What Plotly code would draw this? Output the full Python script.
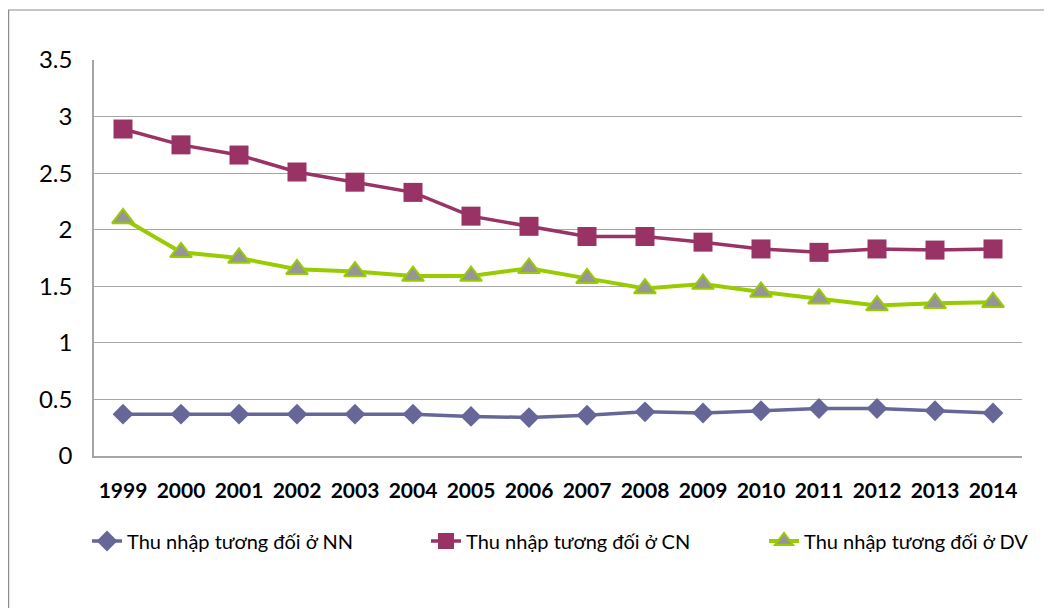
import plotly.graph_objects as go

years = ["1999", "2000", "2001", "2002", "2003", "2004", "2005", "2006",
         "2007", "2008", "2009", "2010", "2011", "2012", "2013", "2014"]
nn = [0.37, 0.37, 0.37, 0.37, 0.37, 0.37, 0.35, 0.34,
      0.36, 0.39, 0.38, 0.40, 0.42, 0.42, 0.40, 0.38]
cn = [2.89, 2.75, 2.66, 2.51, 2.42, 2.33, 2.12, 2.03,
      1.94, 1.94, 1.89, 1.83, 1.80, 1.83, 1.82, 1.83]
dv = [2.10, 1.80, 1.75, 1.65, 1.63, 1.59, 1.59, 1.66,
      1.57, 1.48, 1.52, 1.45, 1.39, 1.33, 1.35, 1.36]
names = ["Thu nhập tương đối ở NN", "Thu nhập tương đối ở CN", "Thu nhập tương đối ở DV"]
yticks = [0, 0.5, 1, 1.5, 2, 2.5, 3, 3.5]
ytext = ["0", "0.5", "1", "1.5", "2", "2.5", "3", "3.5"]

FONT = "Lato, Carlito, Calibri, sans-serif"

fig = go.Figure()
fig.add_trace(go.Scatter(
    x=years, y=nn, name=names[0], mode="lines+markers", legend="legend",
    line=dict(color="#666699", width=3.5),
    marker=dict(symbol="diamond", size=16, color="#666699",
                line=dict(color="#666699", width=0)),
))
fig.add_trace(go.Scatter(
    x=years, y=cn, name=names[1], mode="lines+markers", legend="legend2",
    line=dict(color="#993366", width=3.5),
    marker=dict(symbol="square", size=19, color="#993366",
                line=dict(color="#993366", width=0)),
))
fig.add_trace(go.Scatter(
    x=years, y=dv, name=names[2], mode="lines+markers", legend="legend3",
    line=dict(color="#99CC00", width=4),
    marker=dict(symbol="triangle-up", size=19, color="#969696",
                line=dict(color="#99CC00", width=2)),
))

# page has an 8px body offset; figure coords = reference coords - 8
L, R, T, B = 86, 30, 52, 152
W, H = 1044, 600
pw, ph = W - L - R, H - T - B

def px_x(p):
    return (p - L) / pw

def px_y(p):
    return (H - B - p) / ph

fig.add_shape(type="rect", xref="paper", yref="paper",
              x0=px_x(0.6), x1=px_x(1060), y0=px_y(620), y1=px_y(2),
              line=dict(color="#8C8C8C", width=1.2), fillcolor="rgba(0,0,0,0)",
              layer="below")

def leg(left_px):
    return dict(
        orientation="h", x=px_x(left_px), xanchor="left",
        y=px_y(533), yanchor="middle",
        font=dict(family=FONT, size=20, color="#000000"),
        bgcolor="rgba(0,0,0,0)",
    )

fig.update_layout(
    width=W, height=H,
    margin=dict(l=L, r=R, t=T, b=B),
    paper_bgcolor="white", plot_bgcolor="white",
    font=dict(family=FONT, color="#000000"),
    showlegend=True,
    legend=leg(79),
    legend2=leg(418),
    legend3=leg(756),
    xaxis=dict(
        type="category", range=[-0.5, 15.5], automargin=False,
        showgrid=False, showline=True, linecolor="#A6A6A6", linewidth=1.5,
        ticks="", ticklabelstandoff=15,
        tickfont=dict(family=FONT, size=21, color="#000000", weight="bold"),
        zeroline=False,
    ),
    yaxis=dict(
        range=[0, 3.5], tickvals=yticks, ticktext=ytext, automargin=False,
        showgrid=True, gridcolor="#A6A6A6", gridwidth=1,
        showline=True, linecolor="#A6A6A6", linewidth=1.5,
        ticks="", ticklabelstandoff=15,
        tickfont=dict(family=FONT, size=24, color="#000000"),
        zeroline=False,
    ),
)

fig.write_html("out.html")
